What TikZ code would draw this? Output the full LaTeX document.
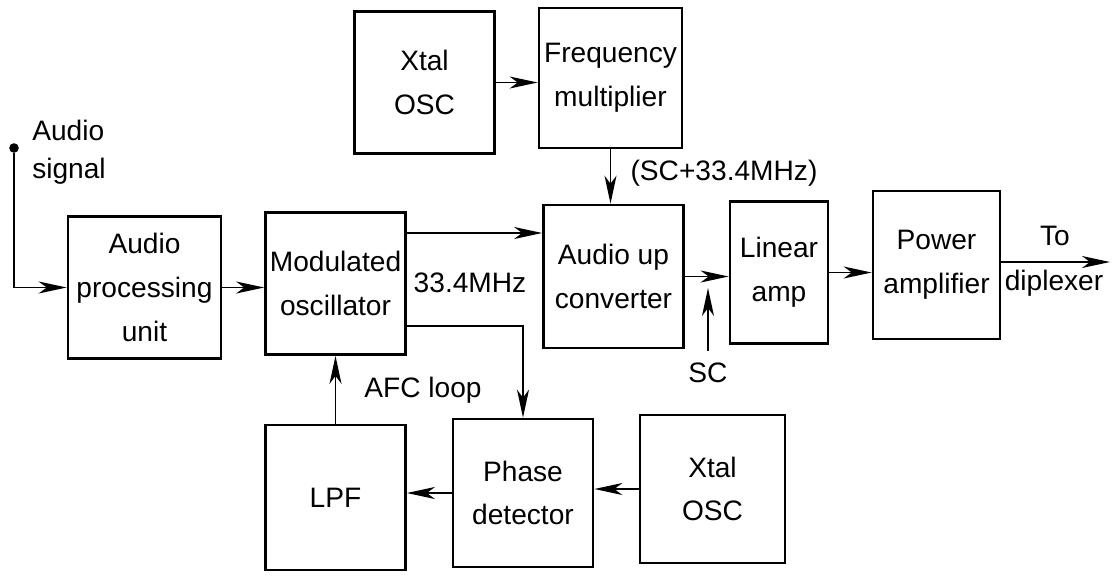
\documentclass[tikz,border=0pt]{standalone}
\usepackage{fontspec}
\setmainfont{Liberation Sans}
\usetikzlibrary{arrows.meta, positioning, calc}

\begin{document}
\begin{tikzpicture}[
  x=0.025cm, y=-0.025cm,
  every node/.style={font=\fontsize{20}{31}\selectfont},
  box/.style={draw, line width=1.9pt, minimum width=3.5cm, minimum height=3.55cm, align=center, inner sep=1pt},
  arr/.style={-{Stealth[length=7mm,width=3mm,inset=2mm]}, line width=1.4pt},
  lbl/.style={inner sep=0pt}
]
  \useasboundingbox (0,0) rectangle (1114,575);

  % blocks
  \node[box] (xtalA) at (424.5,82.5) {Xtal\\OSC};
  \node[box, minimum width=3.575cm, minimum height=3.5cm] (fmul) at (610.5,78) {Frequency\\multiplier};
  \node[box, minimum width=3.825cm] (apu) at (144.5,287.5) {Audio\\processing\\unit};
  \node[box] (modosc) at (335.5,283.5) {Modulated\\oscillator};
  \node[box, minimum height=3.575cm] (upconv) at (613.5,276.5) {Audio up\\converter};
  \node[box, minimum width=2.45cm] (linamp) at (779,272.5) {Linear\\amp};
  \node[box, minimum width=3.175cm, minimum height=3.7cm] (pwramp) at (936.5,265) {Power\\amplifier};
  \node[box, minimum height=3.625cm] (lpf) at (335.5,497.5) {LPF};
  \node[box, minimum height=3.7cm] (phdet) at (523,493) {Phase\\detector};
  \node[box, minimum width=3.625cm, minimum height=3.7cm] (xtalB) at (712.5,489) {Xtal\\OSC};

  % labels
  \node[circle, fill, inner sep=0pt, minimum size=2.4mm] (src) at (14,148) {};
  \node[lbl, anchor=west, align=left, font=\fontsize{20}{27}\selectfont] (srclbl) at (32,152) {Audio\\signal};
  \node[lbl] (fif) at (470,283) {33.4MHz};
  \node[lbl] (sum) at (724,173) {(SC+33.4MHz)};
  \node[lbl] (afc) at (423,390) {AFC loop};
  \node[lbl] (sc) at (708,373) {SC};
  \node[lbl, anchor=base] (to) at (1055,245) {To};
  \node[lbl, anchor=base] (dipl) at (1054,290) {diplexer};
  \coordinate (scTip) at (708,288);
  \coordinate (out) at (1110,262);

  % signal path
  \draw[arr] (src) |- (apu.west);
  \draw[arr] (apu.east) -- (apu.east -| modosc.west);
  \draw[arr] (modosc.east |- 0,233) -- (upconv.west |- 0,233);
  \draw[arr] (xtalA.east) -- (xtalA.east -| fmul.west);
  \draw[arr] (fmul.south) -- (fmul.south |- upconv.north);
  \draw[arr] (upconv.east) -- (upconv.east -| linamp.west);
  \draw[arr] ([yshift=3mm]sc.north) -- (scTip);
  \draw[arr] (linamp.east) -- (linamp.east -| pwramp.west);
  \draw[arr] (pwramp.east |- out) -- (out);

  % AFC loop
  \draw[arr] (modosc.east |- 0,326) -| (phdet.north);
  \draw[arr] (xtalB.west) -- (xtalB.west -| phdet.east);
  \draw[arr] (phdet.west) -- (phdet.west -| lpf.east);
  \draw[arr] (lpf.north) -- (lpf.north |- modosc.south);
\end{tikzpicture}
\end{document}
